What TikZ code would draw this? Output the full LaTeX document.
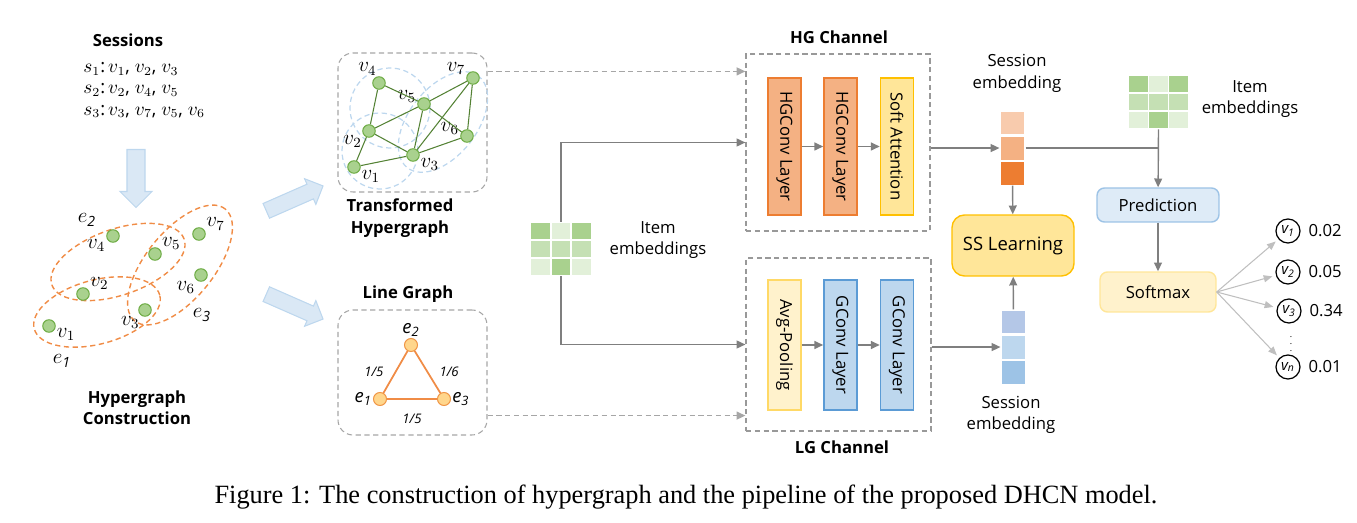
\documentclass[tikz,border=0pt]{standalone}
\usepackage{fontspec}
\setmainfont{Open Sans}
\newfontfamily\capfont{Liberation Serif}
\usetikzlibrary{shapes.geometric, shapes.arrows, arrows.meta, positioning, calc}
\definecolor{hgorange}{RGB}{244,177,131}
\definecolor{hgorangedark}{RGB}{237,125,49}
\definecolor{sesslight}{RGB}{248,203,173}
\definecolor{attnyellow}{RGB}{255,230,153}
\definecolor{attnborder}{RGB}{255,192,0}
\definecolor{poolyellow}{RGB}{255,242,204}
\definecolor{poolborder}{RGB}{255,217,102}
\definecolor{gconvblue}{RGB}{189,215,238}
\definecolor{gconvborder}{RGB}{91,155,213}
\definecolor{sessblueA}{RGB}{180,199,231}
\definecolor{sessblueC}{RGB}{157,195,230}
\definecolor{predblue}{RGB}{222,235,247}
\definecolor{predborder}{RGB}{157,195,230}
\definecolor{nodegreen}{RGB}{169,209,142}
\definecolor{nodeborder}{RGB}{112,173,71}
\definecolor{edgegreen}{RGB}{84,130,53}
\definecolor{embdark}{RGB}{169,209,142}
\definecolor{embmid}{RGB}{197,224,180}
\definecolor{emblight}{RGB}{226,240,217}
\definecolor{arrowblue}{RGB}{218,232,245}
\definecolor{arrowborder}{RGB}{189,215,238}
\definecolor{hullblue}{RGB}{189,215,238}
\definecolor{edgeorange}{RGB}{240,140,70}
\definecolor{lgfill}{RGB}{255,214,140}
\definecolor{lgborder}{RGB}{240,150,70}
\definecolor{linegray}{RGB}{127,127,127}

\tikzset{
  itemgrid/.pic={
    \foreach \cellcol [count=\i from 0] in {embdark,emblight,embdark,embmid,embmid,embmid,emblight,embdark,emblight}{
      \pgfmathtruncatemacro\col{mod(\i,3)}
      \pgfmathtruncatemacro\row{div(\i,3)}
      \fill[\cellcol, draw=white, line width=0.8pt] (-30.5+\col*20.33,-27+\row*18) rectangle ++(20.33,18);
    }
    \node[minimum width=1.22cm, minimum height=1.08cm, inner sep=0pt] (-box) at (0,0) {};
  }
}

\begin{document}
\begin{tikzpicture}[
        x=0.02cm, y=-0.02cm,
        font=\fontsize{9.5}{12.2}\selectfont,
        title/.style={font=\fontsize{9.5}{12.2}\selectfont\bfseries, align=center},
        bigarrow/.style={single arrow, draw=arrowborder, fill=arrowblue, line width=0.6pt, inner xsep=0pt, inner ysep=0.17cm, single arrow head extend=0.14cm},
        vnode/.style={circle, draw=nodeborder, fill=nodegreen, line width=0.6pt, minimum size=0.25cm, inner sep=0pt, label distance=0.5pt},
        vlbl/.style={inner sep=0.5pt, font=\fontsize{12}{14}\selectfont},
        enode/.style={circle, draw=lgborder, fill=lgfill, line width=0.6pt, minimum size=0.26cm, inner sep=0pt, label distance=1pt},
        hyperedge/.style={draw=edgeorange, line width=0.8pt, dash pattern=on 3pt off 2pt},
        hull/.style={draw=hullblue, line width=0.7pt, dash pattern=on 3pt off 2pt},
        gedge/.style={draw=edgegreen, line width=0.6pt},
        lgedge/.style={draw=edgeorange, line width=1pt},
        weight/.style={font=\fontsize{7.5}{9}\selectfont\itshape},
        frame/.style={draw=gray!70, dash pattern=on 3pt off 2pt, line width=0.6pt, rounded corners=0.3cm},
        chanframe/.style={draw=gray!80, dash pattern=on 3pt off 2pt, line width=0.7pt},
        layer/.style={draw, line width=0.9pt, minimum width=2.74cm, minimum height=0.66cm, rotate=-90, inner sep=1pt},
        cell/.style={minimum width=0.5cm, minimum height=0.48cm, inner sep=0pt, draw=white, line width=0.6pt},
        flow/.style={draw=linegray, line width=0.8pt, -{Triangle[length=5pt, width=4.5pt]}},
        dashflow/.style={flow, draw=gray!70, dash pattern=on 3pt off 2pt},
        outflow/.style={draw=gray!50, line width=0.6pt, -{Triangle[length=5pt, width=4pt]}, shorten >=2pt},
        roundbox/.style={rounded corners=0.15cm, line width=0.8pt, align=center},
        outnode/.style={circle, draw=black, line width=0.7pt, minimum size=0.48cm, inner sep=0pt, font=\fontsize{8.5}{10}\selectfont\itshape}
    ]
    \useasboundingbox (0,0) rectangle (1357,523);

    % sessions and hypergraph construction
    \node[title] (sesstitle) at (128,40) {Sessions};
    \node[align=left, anchor=west, inner sep=0pt, font=\fontsize{10.5}{12.2}\selectfont] (sesslist) at (83,90)
        {$s_1$:\,$v_1$, $v_2$, $v_3$\\ $s_2$:\,$v_2$, $v_4$, $v_5$\\ $s_3$:\,$v_3$, $v_7$, $v_5$, $v_6$};
    \node[bigarrow, rotate=-90, minimum height=1.16cm] (downarrow) at (136,174) {};

    \draw[hyperedge, rotate around={15:(97,312)}] (97,312) ellipse [x radius=1.3cm, y radius=0.64cm];
    \draw[hyperedge, rotate around={19:(118,262)}] (118,262) ellipse [x radius=1.4cm, y radius=0.66cm];
    \draw[hyperedge, rotate around={51:(180,265)}] (180,265) ellipse [x radius=1.44cm, y radius=0.68cm];

    \node[vnode, label={[vlbl]354:$v_1$}] (h1) at (49,326) {};
    \node[vnode, label={[vlbl]29:$v_2$}] (h2) at (83,294) {};
    \node[vnode, label={[vlbl]231:$v_3$}] (h3) at (145,310) {};
    \node[vnode, label={[vlbl]198:$v_4$}] (h4) at (113,236) {};
    \node[vnode, label={[vlbl]30:$v_5$}] (h5) at (155,254) {};
    \node[vnode, label={[vlbl]225:$v_6$}] (h6) at (201,275) {};
    \node[vnode, label={[vlbl]23:$v_7$}] (h7) at (199,234) {};
    \node[vlbl] (he1) at (62,361) {$e_{\mathit{1}}$};
    \node[vlbl] (he2) at (87,220) {$e_{\mathit{2}}$};
    \node[vlbl] (he3) at (202,315) {$e_{\mathit{3}}$};
    \node[title] (hgctitle) at (137,408) {Hypergraph\\Construction};

    \node[bigarrow, rotate=23.7, minimum height=1.24cm, inner ysep=0.15cm, single arrow head extend=0.12cm] (uparrow) at (291,200) {};
    \node[bigarrow, rotate=-23.7, minimum height=1.24cm, inner ysep=0.15cm, single arrow head extend=0.12cm] (lowarrow) at (291,305) {};

    % transformed hypergraph
    \node[frame, minimum width=2.98cm, minimum height=2.78cm] (thbox) at (412.5,122.5) {};
    \draw[hull] (390,108) circle [radius=0.8cm];
    \draw[hull] (380,151) circle [radius=0.76cm];
    \draw[hull, rotate around={52:(443,122)}] (443,122) ellipse [x radius=1.16cm, y radius=0.68cm];
    \node[vnode, label={[vlbl]339:$v_1$}] (t1) at (354,167) {};
    \node[vnode, label={[vlbl]207:$v_2$}] (t2) at (369,131) {};
    \node[vnode, label={[vlbl]343:$v_3$}] (t3) at (413,155) {};
    \node[vnode, label={[vlbl]100:$v_4$}] (t4) at (379,83) {};
    \node[vnode, label={[vlbl]177:$v_5$}] (t5) at (424,104) {};
    \node[vnode, label={[vlbl]177:$v_6$}] (t6) at (467,136) {};
    \node[vnode, label={[vlbl]163:$v_7$}] (t7) at (473,78) {};
    \foreach \a/\b in {t4/t5, t4/t2, t2/t5, t2/t3, t2/t1, t1/t3, t5/t3, t5/t7, t5/t6, t7/t3, t7/t6, t3/t6}
        \draw[gedge] (\a) -- (\b);
    \node[title] (thtitle) at (400,218) {Transformed\\Hypergraph};

    % line graph
    \node[title] (lgtitle) at (408,294) {Line Graph};
    \node[frame, minimum width=2.98cm, minimum height=2.5cm] (lgraph) at (412.5,372.5) {};
    \node[enode, label={[vlbl, font=\fontsize{10.5}{13}\selectfont\itshape]180:e\textsubscript{1}}] (l1) at (380,399) {};
    \node[enode, label={[vlbl, font=\fontsize{10.5}{13}\selectfont\itshape]90:e\textsubscript{2}}] (l2) at (411,345) {};
    \node[enode, label={[vlbl, font=\fontsize{10.5}{13}\selectfont\itshape]0:e\textsubscript{3}}] (l3) at (444,399) {};
    \draw[lgedge] (l1) -- node[weight, left=3pt] {1/5} (l2);
    \draw[lgedge] (l2) -- node[weight, right=3pt] {1/6} (l3);
    \draw[lgedge] (l1) -- node[weight, below=5pt] {1/5} (l3);

    % item embeddings
    \pic (memb) at (561,249) {itemgrid};
    \node[align=center] (membtxt) at (658,240) {Item\\embeddings};

    % HG channel
    \node[chanframe, minimum width=3.68cm, minimum height=3.54cm] (hgbox) at (838,142.5) {};
    \node[title] (hgtitle) at (839,37) {HG Channel};
    \node[layer, fill=hgorange, draw=hgorangedark] (hg1) at (784.5,146.5) {HGConv Layer};
    \node[layer, fill=hgorange, draw=hgorangedark] (hg2) at (840.5,146.5) {HGConv Layer};
    \node[layer, fill=attnyellow, draw=attnborder] (hgatt) at (897,146.5) {Soft Attention};
    \draw[flow] (hg1) -- (hg2);
    \draw[flow] (hg2) -- (hgatt);

    % LG channel
    \node[chanframe, minimum width=3.7cm, minimum height=3.46cm] (lgbox) at (838.5,344.5) {};
    \node[title] (lgctitle) at (842,447) {LG Channel};
    \node[layer, minimum width=2.6cm, fill=poolyellow, draw=poolborder] (lgpool) at (784.5,345) {Avg-Pooling};
    \node[layer, minimum width=2.6cm, fill=gconvblue, draw=gconvborder] (lg1) at (840.5,345) {GConv Layer};
    \node[layer, minimum width=2.6cm, fill=gconvblue, draw=gconvborder] (lg2) at (897,345) {GConv Layer};
    \draw[flow] (lgpool) -- (lg1);
    \draw[flow] (lg1) -- (lg2);

    % inputs of the channels
    \coordinate (hgin) at ([yshift=-0.36cm]hgbox.north west);
    \coordinate (lgin) at ([yshift=0.32cm]lgbox.south west);
    \draw[dashflow] (thbox.east |- hgin) -- (hgin);
    \draw[dashflow] (lgraph.east |- lgin) -- (lgin);
    \draw[flow] (memb-box.north) |- (hgbox.west);
    \draw[flow] (memb-box.south) |- (lgbox.west);

    % session embeddings
    \node[cell, fill=sesslight] (hgs1) at (1012.5,123) {};
    \node[cell, fill=hgorange, below=0pt of hgs1] (hgs2) {};
    \node[cell, fill=hgorangedark, below=0pt of hgs2] (hgs3) {};
    \node[align=center] (hgslbl) at (1017,73.5) {Session\\embedding};
    \node[cell, fill=sessblueA] (lgs1) at (1013.5,322) {};
    \node[cell, fill=gconvblue, below=0pt of lgs1] (lgs2) {};
    \node[cell, fill=sessblueC, below=0pt of lgs2] (lgs3) {};
    \node[align=center] (lgslbl) at (1011,415) {Session\\embedding};
    \draw[flow] (hgbox.east |- hgs2.west) -- (hgs2.west);
    \draw[flow] (lgbox.east |- lgs2.west) -- (lgs2.west);

    \node[roundbox, fill=attnyellow, draw=attnborder, minimum width=2.44cm, minimum height=1.22cm, font=\fontsize{10.5}{12.5}\selectfont, rounded corners=0.25cm] (ssl) at (1013,245.5) {SS Learning};
    \draw[flow] (hgs3) -- (ssl);
    \draw[flow] (lgs1) -- (ssl);

    % prediction
    \pic (remb) at (1158.5,102) {itemgrid};
    \node[align=center] (rembtxt) at (1250,99) {Item\\embeddings};
    \node[roundbox, fill=predblue, draw=predborder, minimum width=2.44cm, minimum height=0.68cm] (pred) at (1158,205) {Prediction};
    \node[roundbox, fill=poolyellow, draw=attnyellow, minimum width=2.32cm, minimum height=0.8cm] (soft) at (1158,292) {Softmax};
    \coordinate (join) at (remb-box.south |- hgs2.east);
    \draw[draw=linegray, line width=0.8pt] (hgs2.east) -- (join);
    \draw[flow] (remb-box.south) -- (pred);
    \draw[flow] (pred) -- (soft);

    % outputs
    \node[outnode] (o1) at (1288,231) {v\textsubscript{1}};
    \node[outnode] (o2) at (1288,272) {v\textsubscript{2}};
    \node[outnode] (o3) at (1289,311) {v\textsubscript{3}};
    \node[outnode] (o4) at (1288,367) {v\textsubscript{n}};
    \node[right=1pt of o1] (p1) {0.02};
    \node[right=1pt of o2] (p2) {0.05};
    \node[right=1pt of o3] (p3) {0.34};
    \node[right=1pt of o4] (p4) {0.01};
    \node[font=\tiny] (odots) at (1291,339) {$\vdots$};
    \foreach \o in {o1,o2,o3,o4}
        \draw[outflow] (soft.east) -- (\o);

    \node[font=\capfont\fontsize{15}{17}\selectfont] (caption) at (686,497) {Figure 1: The construction of hypergraph and the pipeline of the proposed DHCN model.};
\end{tikzpicture}
\end{document}
